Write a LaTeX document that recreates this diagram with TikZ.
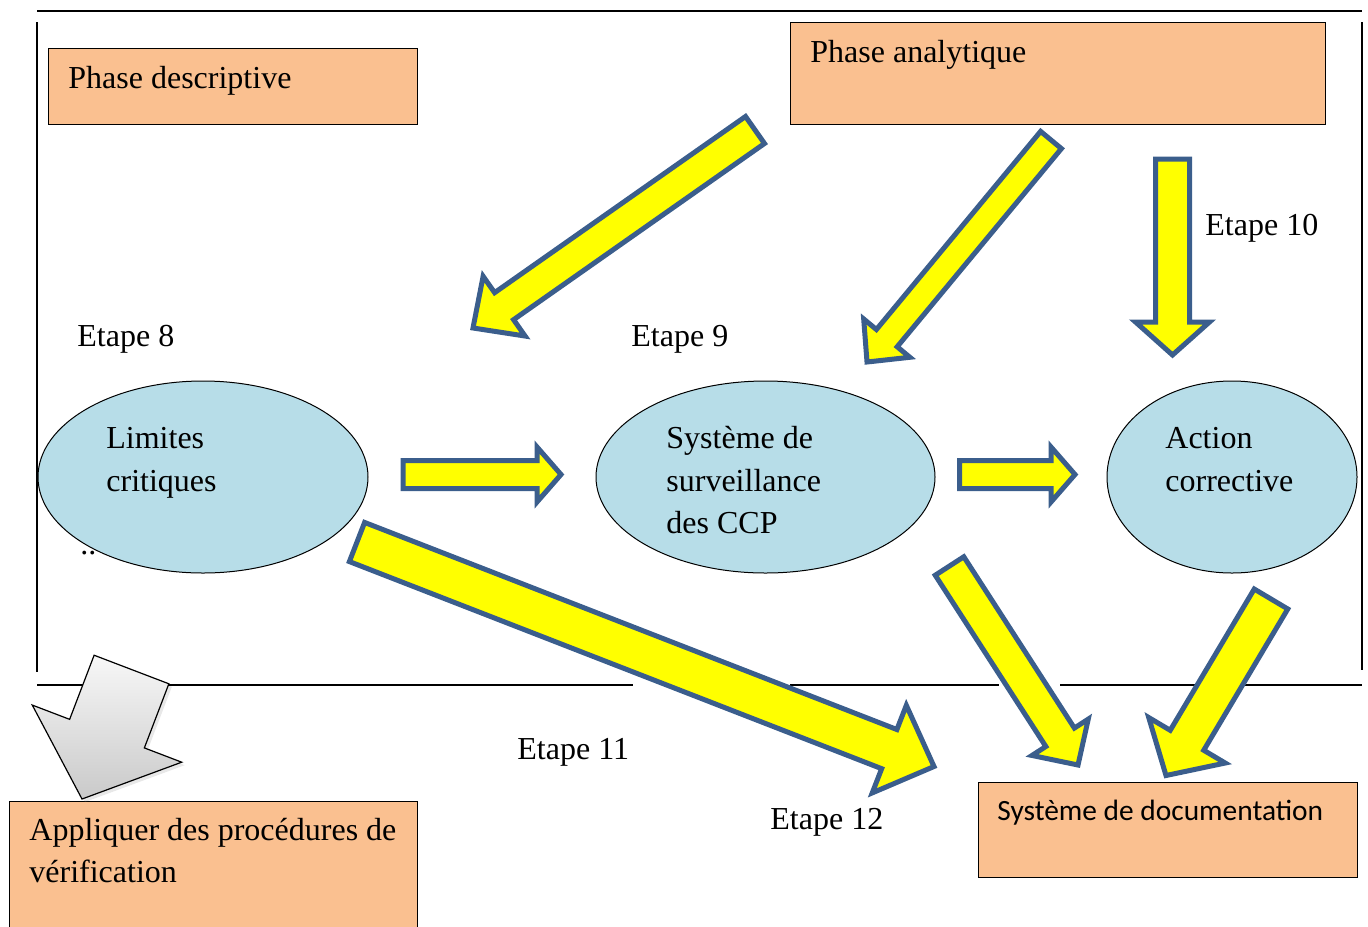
\documentclass[tikz,border=0pt]{standalone}
\usepackage{fontspec}
\setmainfont{Liberation Serif}
\newfontfamily\docfont{Carlito}
\usetikzlibrary{calc,shapes.geometric,shadows}

\definecolor{boxorange}{HTML}{FAC090}
\definecolor{ovalblue}{HTML}{B7DDE8}
\definecolor{arrowedge}{HTML}{3B5E8C}
\definecolor{arrowfill}{HTML}{FFFF00}

\tikzset{
  frameline/.style={line width=1pt, draw=black},
  phasebox/.style={rectangle, draw=black, line width=0.5pt, fill=boxorange, inner sep=0pt, anchor=north west},
  oval/.style={ellipse, draw=black, line width=0.5pt, fill=ovalblue, inner sep=0pt},
  txt/.style={anchor=base west, inner sep=0pt, font=\fontsize{16}{19}\selectfont},
  doctxt/.style={anchor=base west, inner sep=0pt, font=\docfont\fontsize{14.7}{18}\selectfont},
  yblock/.style={draw=arrowedge, fill=arrowfill, line width=2.5pt, line join=miter},
  gblock/.style={draw=black, line width=0.6pt, line join=miter, top color=gray!6, bottom color=gray!42,
    drop shadow={opacity=0.18, shadow xshift=1.5pt, shadow yshift=-1.5pt}},
}

% block arrow: [style]{tail}{tip}{shaft half-width}{head half-width}{head length}
\newcommand\blockarrow[6][yblock]{%
  \coordinate (#2-neck) at ($(#3)!#6!(#2)$);
  \draw[#1] ($(#2)!#4!90:(#3)$) -- ($(#2-neck)!#4!90:(#3)$) -- ($(#2-neck)!#5!90:(#3)$) -- (#3)
    -- ($(#2-neck)!#5!-90:(#3)$) -- ($(#2-neck)!#4!-90:(#3)$) -- ($(#2)!#4!-90:(#3)$) -- cycle;}

\begin{document}
\begin{tikzpicture}[x=0.5pt,y=-0.5pt]
\useasboundingbox (0,0) rectangle (1368,926);

% open frame around the two phases
\draw[frameline] (37,10.5) -- (1362,10.5);
\draw[frameline] (37,22) -- (37,672);
\draw[frameline] (1362,22) -- (1362,670);
\draw[frameline] (37,685) -- (633,685);
\draw[frameline] (790,685) -- (999,685);
\draw[frameline] (1060,685) -- (1362,685);

% boxes
\node[phasebox, minimum width=184.5pt, minimum height=38pt] (pdesc) at (48,48) {};
\node[phasebox, minimum width=267.5pt, minimum height=51pt] (pana) at (790,22) {};
\node[phasebox, minimum width=204pt, minimum height=67pt] (verif) at (9,801) {};
\node[phasebox, minimum width=189.5pt, minimum height=47.5pt] (doc) at (978,782) {};

% ovals
\node[oval, minimum width=165pt, minimum height=96pt] (lim) at (203,477) {};
\node[oval, minimum width=169.5pt, minimum height=96pt] (surv) at (765.5,477) {};
\node[oval, minimum width=125pt, minimum height=96pt] (act) at (1232,477) {};

% arrow end points
\coordinate (a1t) at (755,130);    \coordinate (a1h) at (473,328);
\coordinate (a2t) at (1051,140);   \coordinate (a2h) at (867,362);
\coordinate (a3t) at (1172.5,159); \coordinate (a3h) at (1172.5,355);
\coordinate (a4t) at (403,474.5);  \coordinate (a4h) at (561,474.5);
\coordinate (a5t) at (959.5,474.5);\coordinate (a5h) at (1075,474.5);
\coordinate (a6t) at (357,542);    \coordinate (a6h) at (934,766.5);
\coordinate (a7t) at (949.5,566);  \coordinate (a7h) at (1078,765);
\coordinate (a8t) at (1271,599);   \coordinate (a8h) at (1166,775.5);
\coordinate (gt) at (131.5,669.5); \coordinate (gh) at (82,799);

% yellow block arrows
\blockarrow{a1t}{a1h}{8.25pt}{18.25pt}{19pt}
\blockarrow{a2t}{a2h}{6.75pt}{15pt}{15.5pt}
\blockarrow{a3t}{a3h}{8.5pt}{18.5pt}{16.5pt}
\blockarrow{a4t}{a4h}{7pt}{13.75pt}{12pt}
\blockarrow{a5t}{a5h}{7pt}{13.75pt}{12pt}
\blockarrow{a6t}{a6h}{10.5pt}{23.5pt}{24pt}
\blockarrow{a7t}{a7h}{8.5pt}{16.75pt}{16.5pt}
\blockarrow{a8t}{a8h}{9.75pt}{22.25pt}{20.5pt}
% grey arrow towards the verification box
\blockarrow[gblock]{gt}{gh}{20pt}{40pt}{35pt}

% texts
\node[txt] (tpdesc) at (68,88) {Phase descriptive};
\node[txt] (tpana) at (810,62) {Phase analytique};
\node[txt] (e8) at (77,346) {Etape 8};
\node[txt] (e9) at (631,346) {Etape 9};
\node[txt] (e10) at (1205,235) {Etape 10};
\node[txt] (e11) at (517,759) {Etape 11};
\node[txt] (e12) at (770,829) {Etape 12};
\node[txt] (lim1) at (106,448) {Limites};
\node[txt] (lim2) at (106,491) {critiques};
\node[txt] (dots) at (80,554) {..};
\node[txt] (surv1) at (666,448) {Système de};
\node[txt] (surv2) at (666,491) {surveillance};
\node[txt] (surv3) at (666,533) {des CCP};
\node[txt] (act1) at (1165,448) {Action};
\node[txt] (act2) at (1165,491) {corrective};
\node[txt] (ver1) at (29,840) {Appliquer des procédures de};
\node[txt] (ver2) at (29,882) {vérification};
\node[doctxt] (doc1) at (997,820) {Système de documentation};
\end{tikzpicture}
\end{document}
